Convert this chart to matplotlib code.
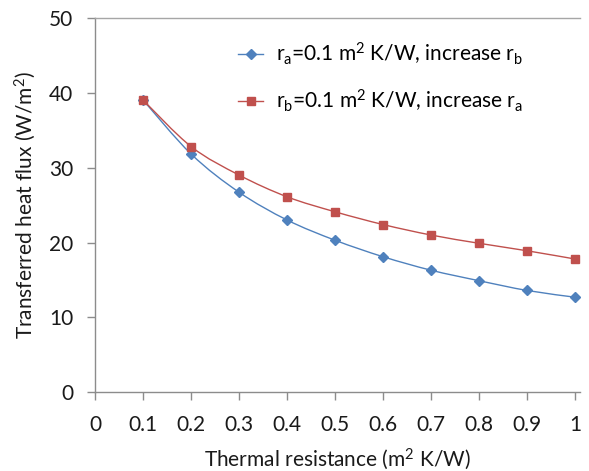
import numpy as np
import matplotlib
matplotlib.use("Agg")
import matplotlib.pyplot as plt
from matplotlib.path import Path
from matplotlib.patches import PathPatch
from matplotlib.lines import Line2D

plt.rcParams['font.family'] = ['Lato', 'DejaVu Sans']
plt.rcParams['mathtext.default'] = 'regular'

resistance = [0.1, 0.2, 0.3, 0.4, 0.5, 0.6, 0.7, 0.8, 0.9, 1.0]
flux_increase_rb = [39.0, 31.8, 26.7, 23.0, 20.3, 18.1, 16.3, 14.9, 13.6, 12.7]
flux_increase_ra = [39.0, 32.8, 29.0, 26.1, 24.1, 22.4, 21.0, 19.9, 18.9, 17.8]
label_rb = "r$_a$=0.1 m$^2$ K/W, increase r$_b$"
label_ra = "r$_b$=0.1 m$^2$ K/W, increase r$_a$"
xticks = [0, 0.1, 0.2, 0.3, 0.4, 0.5, 0.6, 0.7, 0.8, 0.9, 1]
xticklabels = ["0", "0.1", "0.2", "0.3", "0.4", "0.5", "0.6", "0.7", "0.8", "0.9", "1"]
yticks = [0, 10, 20, 30, 40, 50]

blue = "#4F81BD"
red = "#C0504D"
axis_grey = "#8C8C8C"
text_col = "#1a1a1a"
FS = 15


def smooth_path(x, y):
    # Catmull-Rom -> cubic Bezier through data points (Excel-like smoothing)
    x = np.asarray(x, float)
    y = np.asarray(y, float)
    n = len(x)
    verts = [(x[0], y[0])]
    codes = [Path.MOVETO]
    t = 1.0 / 6.0
    for i in range(n - 1):
        p0 = (x[i - 1], y[i - 1]) if i > 0 else (x[i], y[i])
        p1 = (x[i], y[i])
        p2 = (x[i + 1], y[i + 1])
        p3 = (x[i + 2], y[i + 2]) if i + 2 < n else (x[i + 1], y[i + 1])
        c1 = (p1[0] + (p2[0] - p0[0]) * t, p1[1] + (p2[1] - p0[1]) * t)
        c2 = (p2[0] - (p3[0] - p1[0]) * t, p2[1] - (p3[1] - p1[1]) * t)
        verts += [c1, c2, p2]
        codes += [Path.CURVE4] * 3
    return Path(verts, codes)


fig = plt.figure(figsize=(5.89, 4.71), dpi=100)
ax = fig.add_axes([0.1618, 0.167, 0.823, 0.795])

for xs, ys, col, mk, ms in [(resistance, flux_increase_rb, blue, 'D', 5.5),
                            (resistance, flux_increase_ra, red, 's', 6)]:
    ax.add_patch(PathPatch(smooth_path(xs, ys), facecolor='none', edgecolor=col, lw=1.0, zorder=2))
    ax.plot(xs, ys, linestyle='none', marker=mk, markersize=ms, color=col, zorder=3)

ax.set_xlim(0, 1.01)
ax.set_ylim(0, 50)
ax.set_xticks(xticks)
ax.set_xticklabels(xticklabels)
ax.set_yticks(yticks)

ax.spines['right'].set_visible(False)
for s in ['left', 'bottom', 'top']:
    ax.spines[s].set_color(axis_grey)
    ax.spines[s].set_linewidth(1.0)
ax.spines['top'].set_color("#A6A6A6")

ax.tick_params(axis='both', direction='out', length=6, width=1, color=axis_grey,
               labelsize=FS, labelcolor=text_col)
ax.tick_params(axis='x', pad=10)
ax.tick_params(axis='y', pad=10)

ax.set_xlabel("Thermal resistance (m$^2$ K/W)", fontsize=FS, color=text_col)
ax.xaxis.label.set_va('center')
ax.xaxis.set_label_coords(0.5, (392.3 - 459.0) / 374.3)
ax.set_ylabel("Transferred heat flux (W/m$^2$)", fontsize=FS, color=text_col)
ax.yaxis.label.set_va('center')
ax.yaxis.set_label_coords((25.0 - 95.3) / 484.7, 0.5)

handles = [Line2D([], [], color=blue, marker='D', markersize=5.5, lw=1.0),
           Line2D([], [], color=red, marker='s', markersize=6, lw=1.0)]
ax.legend(handles, [label_rb, label_ra], loc='upper left', bbox_to_anchor=(0.295, 0.94),
          frameon=False, fontsize=FS, handlelength=1.2, handletextpad=0.6,
          labelspacing=1.0, borderaxespad=0, borderpad=0)

fig.savefig("out.png", dpi=100)
